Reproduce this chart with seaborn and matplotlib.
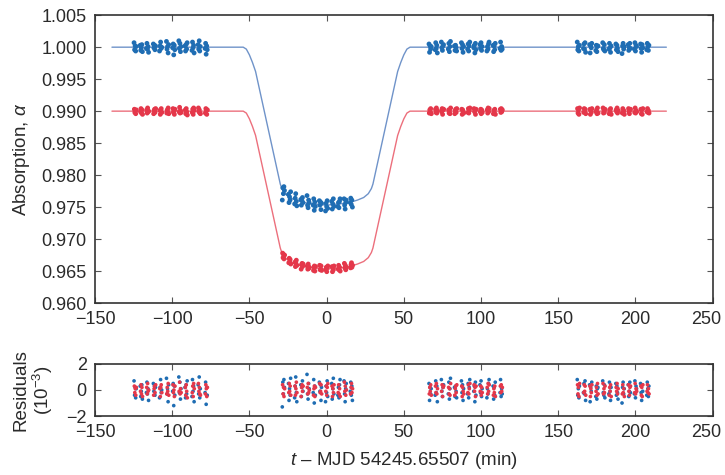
import numpy as np
import pandas as pd
import matplotlib
matplotlib.use("Agg")
import matplotlib.pyplot as plt
import matplotlib.transforms as mtransforms
import seaborn as sns
from matplotlib.ticker import MultipleLocator, FormatStrFormatter

# ---------------- data ----------------
# model light curves (knots)
t_model = [-139, -54, -52, -50, -48, -46, -40, -34, -31, -30, -29, -27, -24, -20, -16,
           -12, -8, -4, 0, 4, 8, 12, 16, 20, 24, 27, 29, 30, 31, 34, 40, 46, 48, 50,
           52, 54, 220]
blue_model = [1.0000, 1.0000, 0.9997, 0.9988, 0.9976, 0.9962, 0.9896, 0.9830, 0.9797,
              0.9786, 0.9779, 0.9771, 0.9765, 0.9761, 0.9758, 0.9756, 0.9755, 0.9754,
              0.9753, 0.9754, 0.9755, 0.9756, 0.9758, 0.9761, 0.9765, 0.9771, 0.9779,
              0.9786, 0.9797, 0.9830, 0.9896, 0.9962, 0.9976, 0.9988, 0.9997, 1.0000,
              1.0000]
red_model = [0.9900, 0.9900, 0.9897, 0.9888, 0.9876, 0.9862, 0.9796, 0.9730, 0.9697,
             0.9686, 0.9679, 0.9671, 0.9665, 0.9661, 0.9658, 0.9656, 0.9655, 0.9654,
             0.9653, 0.9654, 0.9655, 0.9656, 0.9658, 0.9661, 0.9665, 0.9671, 0.9679,
             0.9686, 0.9697, 0.9730, 0.9796, 0.9862, 0.9876, 0.9888, 0.9897, 0.9900,
             0.9900]

# centre times of the exposure groups (min)
grp_t1 = [-124, -120, -116, -111.5, -107.5, -103, -99, -95, -91, -86.5, -82.5, -78]
grp_t2 = [-28, -24, -20, -16, -12, -8, -4, 0, 4, 8, 12, 16]
grp_t3 = [67, 71, 75, 79.5, 83.5, 88, 92, 96, 100, 104.5, 108.5, 113]
grp_t4 = [163, 167, 171, 175, 179.5, 183.5, 188, 192, 196, 200, 204, 208]
offs_blue = [-0.7, -0.35, 0.0, 0.35, 0.7]
offs_red = [-0.5, -0.2, 0.1, 0.4, 0.8]

# light-curve level of each group
blue_lvl_1 = [1.0000] * 12
blue_lvl_2 = [0.9774, 0.9765, 0.9761, 0.9758, 0.9756, 0.9755, 0.9754, 0.9753, 0.9754, 0.9755, 0.9756, 0.9758]
blue_lvl_3 = [1.0000] * 12
blue_lvl_4 = [1.0000] * 12
red_lvl_1 = [0.9900] * 12
red_lvl_2 = [0.9674, 0.9665, 0.9661, 0.9658, 0.9656, 0.9655, 0.9654, 0.9653, 0.9654, 0.9655, 0.9656, 0.9658]
red_lvl_3 = [0.9900] * 12
red_lvl_4 = [0.9900] * 12

# tick values
x_ticks = [-150, -100, -50, 0, 50, 100, 150, 200, 250]
res_ticks = [-2, 0, 2]

# residuals in units of 1e-4 (one line per exposure group)
res_blue_1 = """7 -4 2 -6 1
3 -5 -1 4 -7
-2 6 -3 1 -8
5 -1 3 -4 2
-6 2 8 -2 0
9 -3 1 -9 4
-1 5 -12 3 -4
10 -2 6 -7 1
2 -6 4 -3 7
-5 8 -1 3 -9
4 -3 10 -6 1
-2 6 -11 2 -4"""
res_red_1 = """3 -2 1 -4 2
-1 4 -3 2 -5
2 -3 5 -1 0
-4 1 3 -2 4
1 -5 2 4 -2
-3 2 -1 5 -4
4 -2 0 -5 3
-1 6 -3 1 -2
2 -4 4 -1 -6
-2 3 -5 5 1
5 -1 2 -3 -4
-3 4 1 -5 2"""
res_blue_2 = """-13 6 -3 8 2
5 -8 1 -4 9
-6 3 10 -2 -9
4 -5 2 7 -1
12 -3 -7 5 1
-2 8 -10 3 -4
6 -1 4 -8 2
-9 3 -2 7 -5
5 -7 1 9 -3
-4 2 -6 4 8
7 -3 -9 1 5
-1 6 -4 3 -8"""
res_red_2 = """4 -3 2 -5 1
-2 5 -1 3 -4
3 -4 1 6 -2
-5 2 4 -1 3
2 -3 5 -2 0
-4 1 3 -5 2
5 -2 -1 4 -3
-1 3 -4 2 5
3 -5 1 -2 4
-2 4 -3 1 -5
6 -1 3 -4 0
-3 2 5 -2 1"""
res_blue_3 = """5 -8 2 -3 1
-4 7 -2 3 -9
8 -1 -5 2 4
-3 6 -7 1 9
2 -5 3 -1 -6
7 -2 4 -8 1
-3 5 -6 2 8
-1 3 -9 6 -4
4 -2 7 -5 1
-6 1 -3 5 8
3 -7 2 -4 6
-2 8 -5 1 -3"""
res_red_3 = """-3 2 -1 4 -4
3 -2 5 -3 1
-1 4 -5 2 3
2 -3 1 -4 5
-4 1 3 -2 4
3 -5 2 -1 -3
-2 4 -3 1 5
4 -1 2 -5 3
-1 3 -4 2 -2
2 -3 5 -1 4
-4 1 -2 3 -5
3 -2 4 -1 2"""
res_blue_4 = """8 -4 1 -6 3
-2 5 -3 7 -8
4 -9 2 -1 6
-5 3 -7 1 2
7 -2 -4 4 -6
-3 6 -1 -8 2
5 -4 3 -2 -7
-10 2 6 -3 1
4 -5 -1 6 -2
-3 7 -6 3 1
5 -2 -8 4 -1
-4 6 1 -5 3"""
res_red_4 = """4 -3 2 -5 5
-2 4 -1 3 -4
3 -5 1 -2 4
-1 2 -4 5 -3
5 -3 1 -2 3
-4 2 -1 4 -5
2 -1 5 -3 1
-3 4 -2 1 -5
4 -1 -4 2 3
-2 5 -3 1 -1
3 -4 2 -5 4
-1 4 -2 1 -3"""

# ---------------- build table ----------------
def parse(s):
    return [[int(v) for v in line.split()] for line in s.strip().splitlines()]

rows = []
series_def = [
    ("blue", offs_blue, [(grp_t1, blue_lvl_1, res_blue_1), (grp_t2, blue_lvl_2, res_blue_2),
                         (grp_t3, blue_lvl_3, res_blue_3), (grp_t4, blue_lvl_4, res_blue_4)]),
    ("red", offs_red, [(grp_t1, red_lvl_1, res_red_1), (grp_t2, red_lvl_2, res_red_2),
                       (grp_t3, red_lvl_3, res_red_3), (grp_t4, red_lvl_4, res_red_4)]),
]
for name, offs, clusters in series_def:
    for gt, lvl, rs in clusters:
        for tc, lv, grp in zip(gt, lvl, parse(rs)):
            for o, r in zip(offs, grp):
                rows.append({"t": tc + o, "alpha": lv + r * 1e-4,
                             "resid": r * 0.1, "series": name})
df = pd.DataFrame(rows)

# ---------------- style ----------------
sns.set_theme(style="ticks")
plt.rcParams["font.family"] = ["Liberation Sans", "DejaVu Sans"]
plt.rcParams["mathtext.fontset"] = "custom"
plt.rcParams["mathtext.rm"] = "Liberation Sans"
plt.rcParams["mathtext.it"] = "Liberation Sans:italic"
plt.rcParams["axes.unicode_minus"] = True

pt_colors = {"blue": "#1f6db3", "red": "#e4374a"}
line_blue = "#6f93c9"
line_red = "#ec6f7c"
fs = 13
txt = "#2a2a2a"

fig = plt.figure(figsize=(7.25, 4.75), dpi=100)
ax1 = fig.add_axes([0.131, 0.362, 0.852, 0.606])
ax2 = fig.add_axes([0.131, 0.1242, 0.852, 0.1095])

# top panel
sns.lineplot(x=t_model, y=blue_model, color=line_blue, lw=1.0, ax=ax1, sort=False)
sns.lineplot(x=t_model, y=red_model, color=line_red, lw=1.0, ax=ax1, sort=False)
sns.scatterplot(data=df, x="t", y="alpha", hue="series", palette=pt_colors,
                s=12, linewidth=0, legend=False, ax=ax1, zorder=3)
ax1.set_xlim(-150, 250)
ax1.set_ylim(0.960, 1.005)
ax1.yaxis.set_major_locator(MultipleLocator(0.005))
ax1.yaxis.set_major_formatter(FormatStrFormatter("%.3f"))
ax1.set_xticks(x_ticks)
ax1.set_xlabel("")
ax1.set_ylabel("Absorption, $\\alpha$", fontsize=fs + 0.5, color=txt, labelpad=7)

# residual panel
sns.scatterplot(data=df, x="t", y="resid", hue="series", palette=pt_colors,
                s=7, linewidth=0, legend=False, ax=ax2, zorder=3)
ax2.set_xlim(-150, 250)
ax2.set_ylim(-2, 2)
ax2.set_yticks(res_ticks)
ax2.set_xticks(x_ticks)
ax2.set_xlabel("$t$ – MJD 54245.65507 (min)", fontsize=fs + 0.5, color=txt, labelpad=6)
ax2.set_ylabel("Residuals\n(10$^{-3}$)", fontsize=fs + 0.5, color=txt, labelpad=8,
               linespacing=1.1)

shift = mtransforms.ScaledTranslation(-6 / 100, 0, fig.dpi_scale_trans)
for ax in (ax1, ax2):
    ax.tick_params(direction="in", length=4, width=0.8, top=True, right=True,
                   labelsize=fs, colors="#555555", labelcolor=txt, pad=6)
    for sp in ax.spines.values():
        sp.set_color("#333333")
        sp.set_linewidth(1.2)
        sp.set_visible(True)
    last = ax.xaxis.get_major_ticks()[-1].label1
    last.set_transform(last.get_transform() + shift)

fig.savefig("out.png", dpi=100)
